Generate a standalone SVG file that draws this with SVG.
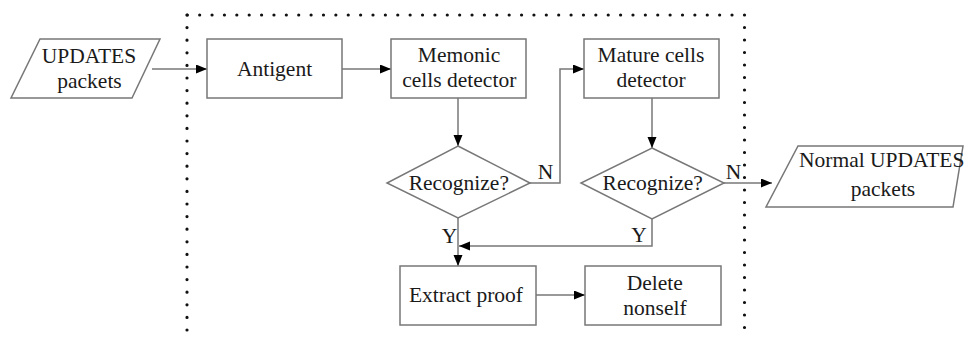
<svg xmlns="http://www.w3.org/2000/svg" width="968" height="339" viewBox="0 0 968 339">
  <defs>
    <marker id="arrow" markerUnits="userSpaceOnUse" markerWidth="12" markerHeight="10" refX="11" refY="4.5" orient="auto">
      <path d="M0,0 L11,4.5 L0,9 z" fill="#000"/>
    </marker>
    <style>
      .shape { fill: #fff; stroke: #777; stroke-width: 1.5; }
      .link { fill: none; stroke: #777; stroke-width: 1.5; }
      .arrow { marker-end: url(#arrow); }
      .dots { fill: none; stroke: #111; stroke-width: 3.2; stroke-linecap: round; }
      text { font-family: "Liberation Serif", "Times New Roman", serif; font-size: 21.5px; fill: #1a1a1a; text-anchor: middle; }
    </style>
  </defs>
  <rect width="968" height="339" fill="#fff"/>

  <!-- dotted system boundary -->
  <g id="boundary">
    <path class="dots" d="M187.3,15 L744.3,15" stroke-dasharray="0 12.38"/>
    <path class="dots" d="M187,15 L187,339" stroke-dasharray="0 12.6"/>
    <path class="dots" d="M744.5,15 L744.5,339" stroke-dasharray="0 12.5"/>
  </g>

  <!-- connectors -->
  <g id="connectors">
    <path class="link arrow" d="M152,69 L207,69"/>
    <path class="link arrow" d="M342,69 L391,69"/>
    <path class="link arrow" d="M458,98 L458,146"/>
    <path class="link arrow" d="M530,183 L560,183 L560,69 L584,69"/>
    <path class="link arrow" d="M652,98 L652,148"/>
    <path class="link arrow" d="M724,183 L772,183"/>
    <path class="link arrow" d="M652,219 L652,246 L459,246"/>
    <path class="link arrow" d="M458,218 L458,266"/>
    <path class="link arrow" d="M536,295 L585,295"/>
    <text x="545.5" y="178.5">N</text>
    <text x="733.5" y="179">N</text>
    <text x="449.5" y="243">Y</text>
    <text x="639" y="241.5">Y</text>
  </g>

  <g id="updates-packets">
    <polygon class="shape" points="40,39 160,39 132,98 11,98"/>
    <text x="89" y="63">UPDATES</text>
    <text x="89.5" y="88">packets</text>
  </g>

  <g id="antigent">
    <rect class="shape" x="207" y="39" width="135" height="59"/>
    <text x="274.5" y="76">Antigent</text>
  </g>

  <g id="memonic-detector">
    <rect class="shape" x="391" y="39" width="135" height="59"/>
    <text x="459" y="61.5">Memonic</text>
    <text x="459.3" y="86.5">cells detector</text>
  </g>

  <g id="mature-detector">
    <rect class="shape" x="584" y="39" width="135" height="59"/>
    <text x="651" y="62">Mature cells</text>
    <text x="651" y="87">detector</text>
  </g>

  <g id="recognize-memonic">
    <polygon class="shape" points="458,146 530,183 458,218 387,183"/>
    <text x="458.8" y="189.5">Recognize?</text>
  </g>

  <g id="recognize-mature">
    <polygon class="shape" points="652,148 724,183 652,219 581,183"/>
    <text x="652.7" y="190">Recognize?</text>
  </g>

  <g id="normal-packets">
    <polygon class="shape" points="798,146 963,146 953,207 766,207"/>
    <text x="881.7" y="166.5">Normal UPDATES</text>
    <text x="883" y="196">packets</text>
  </g>

  <g id="extract-proof">
    <rect class="shape" x="400" y="266" width="136" height="59"/>
    <text x="466" y="301.5">Extract proof</text>
  </g>

  <g id="delete-nonself">
    <rect class="shape" x="585" y="266" width="136" height="59"/>
    <text x="654.7" y="290">Delete</text>
    <text x="655" y="315">nonself</text>
  </g>
</svg>
